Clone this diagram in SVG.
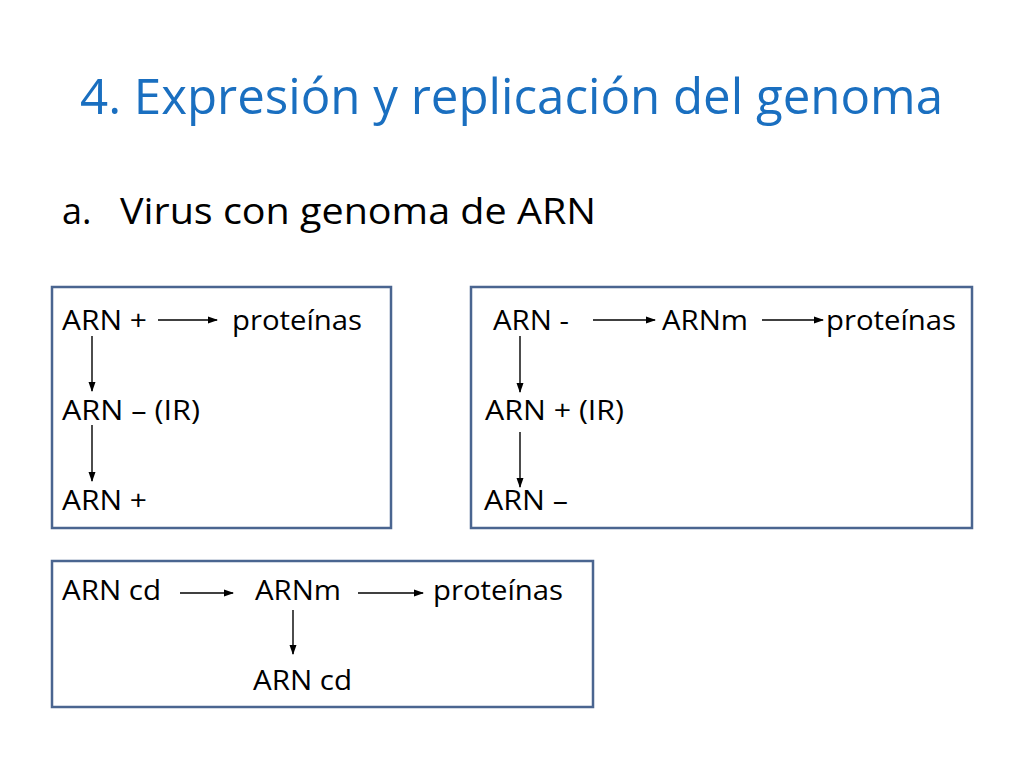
<svg xmlns="http://www.w3.org/2000/svg" width="1024" height="768" viewBox="0 0 1024 768">
<style>
.t{font-family:"Open Sans","Liberation Sans",sans-serif;fill:#000}
.title{font-family:"Open Sans","Liberation Sans",sans-serif;fill:#1A6FC0;font-size:49px}
.sub{font-size:36px}
.b{font-size:27px}
.box{fill:#fff;stroke:#4A6590;stroke-width:2.5}
.c line{stroke:#000;stroke-width:1.4;marker-end:url(#ah)}
</style>
<defs>
<marker id="ah" markerWidth="10" markerHeight="8" refX="9" refY="4" orient="auto" markerUnits="userSpaceOnUse">
<path d="M0,0.5 L10,4 L0,7.5 Z" fill="#000"/>
</marker>
</defs>
<rect width="1024" height="768" fill="#fff"/>
<text class="title" x="80" y="114" textLength="863" lengthAdjust="spacingAndGlyphs">4. Expresión y replicación del genoma</text>
<text class="t sub" x="62" y="224">a.</text>
<text class="t sub" x="120" y="224" textLength="476" lengthAdjust="spacingAndGlyphs">Virus con genoma de ARN</text>

<g id="box1">
<rect class="box" x="52" y="287" width="339" height="241"/>
<text class="t b" x="62" y="330" textLength="85" lengthAdjust="spacingAndGlyphs">ARN +</text>
<text class="t b" x="232" y="330" textLength="130" lengthAdjust="spacingAndGlyphs">proteínas</text>
<text class="t b" x="62" y="420" textLength="138" lengthAdjust="spacingAndGlyphs">ARN – (IR)</text>
<text class="t b" x="62" y="510" textLength="85" lengthAdjust="spacingAndGlyphs">ARN +</text>
</g>
<g id="box2">
<rect class="box" x="471" y="287" width="501" height="241"/>
<text class="t b" x="493" y="330" textLength="76" lengthAdjust="spacingAndGlyphs">ARN -</text>
<text class="t b" x="662" y="330" textLength="86" lengthAdjust="spacingAndGlyphs">ARNm</text>
<text class="t b" x="826" y="330" textLength="130" lengthAdjust="spacingAndGlyphs">proteínas</text>
<text class="t b" x="485" y="420" textLength="139" lengthAdjust="spacingAndGlyphs">ARN + (IR)</text>
<text class="t b" x="484" y="510" textLength="84" lengthAdjust="spacingAndGlyphs">ARN –</text>
</g>
<g id="box3">
<rect class="box" x="52" y="561" width="541" height="146"/>
<text class="t b" x="62" y="600" textLength="99" lengthAdjust="spacingAndGlyphs">ARN cd</text>
<text class="t b" x="255" y="600" textLength="86" lengthAdjust="spacingAndGlyphs">ARNm</text>
<text class="t b" x="433" y="600" textLength="130" lengthAdjust="spacingAndGlyphs">proteínas</text>
<text class="t b" x="253" y="690" textLength="99" lengthAdjust="spacingAndGlyphs">ARN cd</text>
</g>
<g id="connectors" class="c">
<line x1="158" y1="320" x2="217" y2="320"/>
<line x1="92" y1="336" x2="92" y2="391"/>
<line x1="92" y1="425" x2="92" y2="481"/>
<line x1="593" y1="320" x2="655" y2="320"/>
<line x1="762" y1="320" x2="823" y2="320"/>
<line x1="520" y1="336" x2="520" y2="392"/>
<line x1="520" y1="432" x2="520" y2="487"/>
<line x1="180" y1="593" x2="233" y2="593"/>
<line x1="358" y1="593" x2="423" y2="593"/>
<line x1="293" y1="610" x2="293" y2="654"/>
</g>
</svg>
